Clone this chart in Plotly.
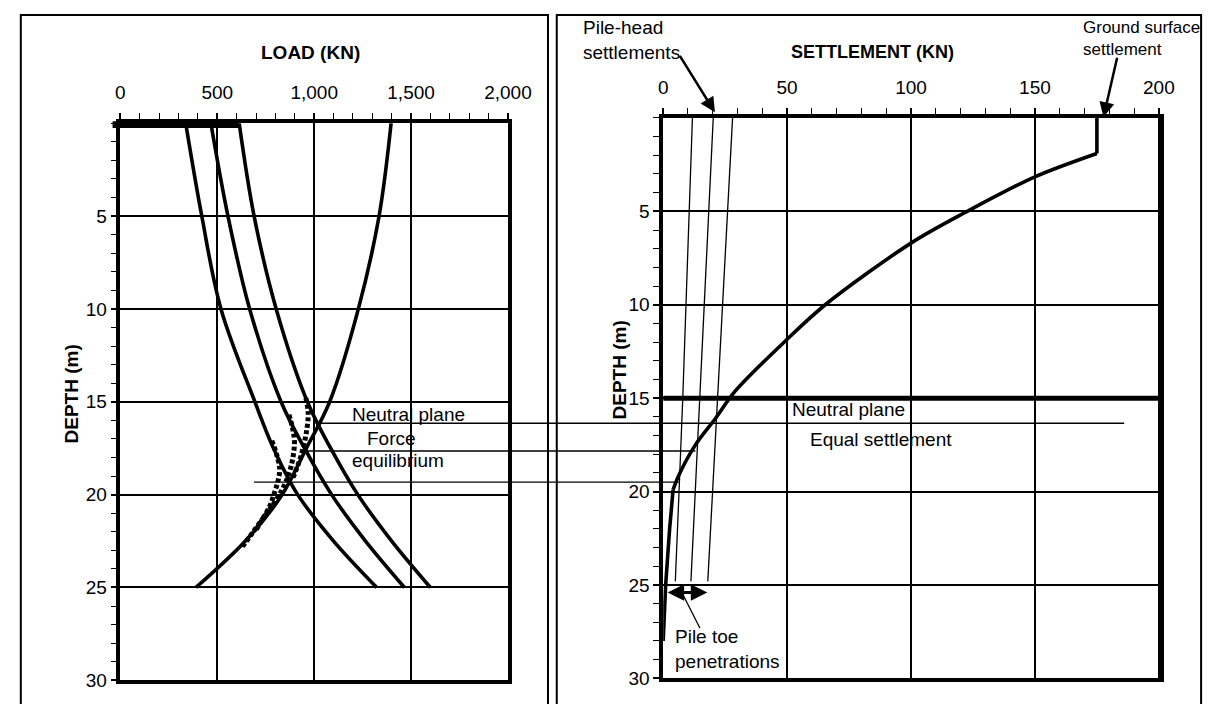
import plotly.graph_objects as go

W, H = 1221, 704
FONT = "Liberation Sans, Arial, Helvetica, sans-serif"

# ---------------- data: left panel (load kN vs depth m) ----------------
depth_pts = [0, 5, 10, 15, 17.5, 20, 22.5, 25]
load_d1 = [337, 420, 519, 694, 790, 915, 1100, 1323]
load_d2 = [467, 555, 667, 829, 950, 1090, 1265, 1466]
load_d3 = [613, 690, 804, 965, 1085, 1225, 1400, 1600]
load_res = [1397, 1335, 1228, 1080, 960, 835, 645, 390]

dot_a_load = [957, 969, 962, 945, 920, 890]
dot_a_depth = [14.8, 15.6, 16.5, 17.4, 18.3, 19.1]
dot_b_load = [870, 888, 898, 892, 875, 850, 815, 770, 720, 672, 630]
dot_b_depth = [15.7, 16.4, 17.1, 17.9, 18.7, 19.4, 20.1, 20.8, 21.5, 22.2, 22.8]
dot_c_load = [781, 805, 822, 815, 798, 772, 740, 700]
dot_c_depth = [17.1, 17.8, 18.6, 19.2, 19.8, 20.6, 21.2, 21.9]

load_ticks = [0, 500, 1000, 1500, 2000]
depth_ticks = [5, 10, 15, 20, 25, 30]

# ---------------- data: right panel (settlement vs depth) ----------------
settle_depth = [0, 1.9, 3.15, 5.05, 6.7, 10, 11.9, 14.6, 16.1, 17.5, 19.1, 19.9, 22, 25, 28]
settle_val = [175, 175, 150, 122, 100, 65.4, 49.6, 29.2, 21, 13, 6.4, 4, 2.6, 1, 0]

head_depth = [0, 5, 10, 15, 20, 24.8]
head_s1 = [11.8, 10.6, 9.3, 7.9, 6.4, 4.9]
head_s2 = [20.2, 18.4, 16.6, 14.8, 13.0, 11.2]
head_s3 = [28.0, 26.0, 24.0, 22.0, 20.0, 18.0]

settle_ticks = [0, 50, 100, 150, 200]

# neutral plane / equilibrium connecting lines
np_depth = [16.16, 17.65, 19.33]
np_load_start = [1008, 947, 690]
np_settle_end = [186, 13, 6.3]
np_right_depth = 15
toe_pen = [1.2, 17.8]
toe_depth = 25.4

# ---------------- geometry ----------------
LX0, LX1, LY0, LY1 = 110, 507, 117, 683       # pixel box of left plot
RX0, RX1, RY0, RY1 = 666, 1175, 111.7, 681    # pixel box of right plot
LRANGE = [0, 2000]
RRANGE = [0, 200.5]


def px(x):
    return x / W


def py(y):
    return 1 - y / H


def lx(load):
    return px(LX0 + (load - LRANGE[0]) / (LRANGE[1] - LRANGE[0]) * (LX1 - LX0))


def ly(d):
    return py(LY0 + d / 30 * (LY1 - LY0))


def rx(s):
    return px(RX0 + (s - RRANGE[0]) / (RRANGE[1] - RRANGE[0]) * (RX1 - RX0))


fig = go.Figure()

line_style = dict(color="black", width=3.6)
for ld in (load_d1, load_d2, load_d3, load_res):
    fig.add_trace(go.Scatter(x=ld, y=depth_pts, mode="lines", line=dict(shape="spline", smoothing=1, **line_style),
                             xaxis="x", yaxis="y", showlegend=False, hoverinfo="skip"))

for dl, dd in ((dot_a_load, dot_a_depth), (dot_b_load, dot_b_depth), (dot_c_load, dot_c_depth)):
    fig.add_trace(go.Scatter(x=dl, y=dd, mode="lines",
                             line=dict(shape="spline", smoothing=1, color="black", width=5, dash="4px,2.5px"),
                             xaxis="x", yaxis="y", showlegend=False, hoverinfo="skip"))

# settlement curve (three pieces: vertical top, curved body, near-vertical toe)
fig.add_trace(go.Scatter(x=settle_val[:2], y=settle_depth[:2], mode="lines", line=line_style,
                         xaxis="x2", yaxis="y2", showlegend=False, hoverinfo="skip"))
fig.add_trace(go.Scatter(x=settle_val[1:12], y=settle_depth[1:12], mode="lines",
                         line=dict(shape="spline", smoothing=0.9, **line_style),
                         xaxis="x2", yaxis="y2", showlegend=False, hoverinfo="skip"))
fig.add_trace(go.Scatter(x=settle_val[11:], y=settle_depth[11:], mode="lines", line=line_style,
                         xaxis="x2", yaxis="y2", showlegend=False, hoverinfo="skip"))

for hs in (head_s1, head_s2, head_s3):
    fig.add_trace(go.Scatter(x=hs, y=head_depth, mode="lines", line=dict(color="black", width=1.3),
                             xaxis="x2", yaxis="y2", showlegend=False, hoverinfo="skip"))

axis_common = dict(
    showline=True, linecolor="black", linewidth=3.5, mirror=True,
    showgrid=True, gridcolor="black", gridwidth=1.6, zeroline=False,
    ticks="outside", ticklen=6, tickwidth=1.5, tickcolor="black",
    tickfont=dict(family=FONT, size=19, color="black"), fixedrange=True,
)
minor_common = dict(ticks="outside", ticklen=6, tickwidth=1.3, tickcolor="black", showgrid=False)

fig.update_layout(
    width=W, height=H, margin=dict(l=0, r=0, t=0, b=0),
    paper_bgcolor="white", plot_bgcolor="white", showlegend=False,
    font=dict(family=FONT, size=19, color="black"),
    xaxis=dict(domain=[px(LX0), px(LX1)], range=LRANGE, side="top", anchor="y",
               tickmode="array", tickvals=load_ticks, ticktext=[f"{v:,}" for v in load_ticks],
               ticklabelstandoff=7, minor=dict(dtick=100, tick0=0, **minor_common), **axis_common),
    yaxis=dict(domain=[py(LY1), py(LY0)], range=[30, 0], anchor="x",
               tickmode="array", tickvals=depth_ticks,
               minor=dict(dtick=1, tick0=0, **minor_common), **axis_common),
    xaxis2=dict(domain=[px(RX0), px(RX1)], range=RRANGE, side="top", anchor="y2",
                tickmode="array", tickvals=settle_ticks,
                ticklabelstandoff=7, minor=dict(dtick=10, tick0=0, **minor_common), **axis_common),
    yaxis2=dict(domain=[py(RY1), py(RY0)], range=[30, 0], anchor="x2",
                tickmode="array", tickvals=depth_ticks,
                minor=dict(dtick=1, tick0=0, **minor_common), **axis_common),
)

shapes = []
# outer panel frames
shapes.append(dict(type="rect", xref="paper", yref="paper", x0=px(8), x1=px(548), y0=py(730), y1=py(7),
                   line=dict(color="black", width=2)))
shapes.append(dict(type="rect", xref="paper", yref="paper", x0=px(557), x1=px(1217), y0=py(730), y1=py(7),
                   line=dict(color="black", width=2)))
# applied load bar at pile head
shapes.append(dict(type="rect", xref="paper", yref="paper", x0=px(102), x1=lx(load_d3[0]),
                   y0=py(122), y1=py(115), fillcolor="black", line=dict(width=0), layer="above"))
# thick neutral plane in settlement panel
shapes.append(dict(type="line", xref="x2", yref="y2", x0=RRANGE[0], x1=RRANGE[1], y0=np_right_depth,
                   y1=np_right_depth, line=dict(color="black", width=5)))
# connecting lines between panels
for d, l0, s1 in zip(np_depth, np_load_start, np_settle_end):
    shapes.append(dict(type="line", xref="paper", yref="paper", x0=lx(l0), x1=rx(s1), y0=ly(d), y1=ly(d),
                       line=dict(color="black", width=1.4)))
# leader line for pile toe label
shapes.append(dict(type="line", xref="x2", yref="y2", x0=8.1, y0=25.55, x1=14.8, y1=27.3,
                   line=dict(color="black", width=1.3)))
fig.update_layout(shapes=shapes)

ann = []


def text(x, y, t, size=19, bold=False, xanchor="left", angle=0):
    ann.append(dict(x=px(x), y=py(y), xref="paper", yref="paper", text=f"<b>{t}</b>" if bold else t,
                    showarrow=False, xanchor=xanchor, yanchor="middle", align="left", textangle=angle,
                    font=dict(family=FONT, size=size, color="black")))


text(305, 45, "LOAD (KN)", size=19, bold=True, xanchor="center")
text(880, 45, "SETTLEMENT (KN)", size=18, bold=True, xanchor="center")
text(60, 392, "DEPTH (m)", size=19, bold=True, xanchor="center", angle=-90)
text(621, 368, "DEPTH (m)", size=19, bold=True, xanchor="center", angle=-90)
text(345, 413, "Neutral plane")
text(361, 437, "Force")
text(345, 460, "equilibrium")
text(796, 408, "Neutral plane")
text(814, 438, "Equal settlement")
text(582, 33, "Pile-head<br>settlements")
text(1094, 31, "Ground surface<br>settlement", size=17)
text(676, 651, "Pile toe<br>penetrations")

# arrows
ann.append(dict(x=px(719), y=py(106), xref="paper", yref="paper", text="", showarrow=True,
                ax=683 - 719, ay=48 - 106, arrowhead=2, arrowsize=1.2, arrowwidth=2.5, arrowcolor="black"))
ann.append(dict(x=px(1117), y=py(111), xref="paper", yref="paper", text="", showarrow=True,
                ax=1131 - 1117, ay=50 - 111, arrowhead=2, arrowsize=1.2, arrowwidth=2.5, arrowcolor="black"))
ann.append(dict(x=toe_pen[1], y=toe_depth, xref="x2", yref="y2", text="", showarrow=True,
                ax=toe_pen[0], ay=toe_depth, axref="x2", ayref="y2", arrowside="end+start",
                arrowhead=2, arrowsize=1.1, arrowwidth=3, arrowcolor="black"))
fig.update_layout(annotations=ann)

fig.write_html("out.html")
